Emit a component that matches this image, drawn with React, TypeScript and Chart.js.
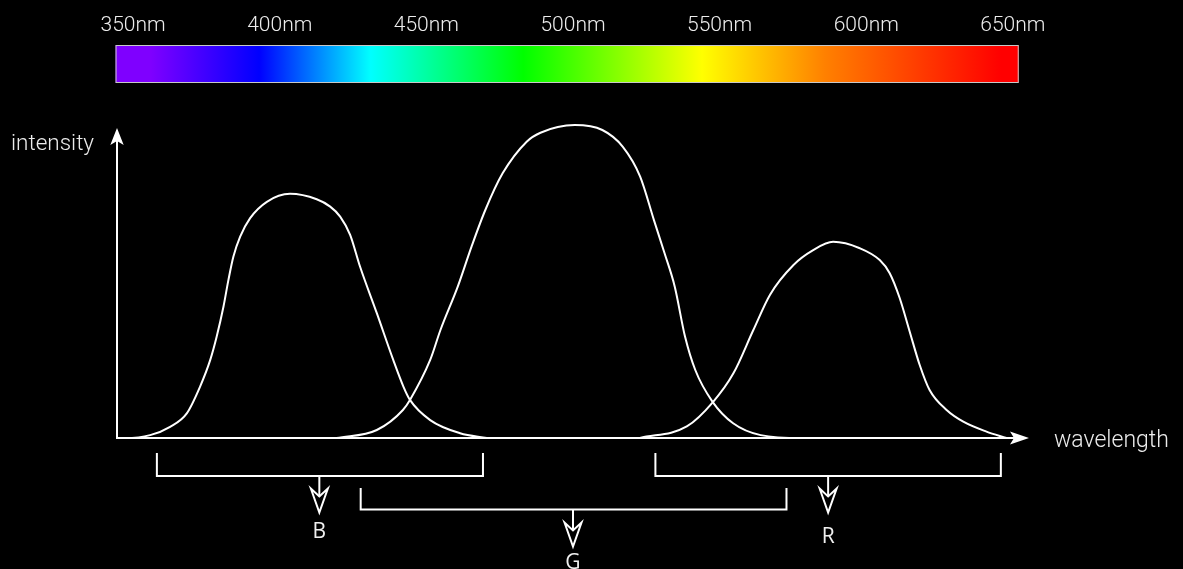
import React, { useEffect, useRef } from "react";
import { Chart, registerables } from "chart.js";

Chart.register(...registerables);

// ---- data ----
const wavelengthTicks = [350, 400, 450, 500, 550, 600, 650];

const blueWavelength = [345.6, 347.3, 355.8, 362.6, 368.3, 372.8, 376.3, 378.5, 380.8, 382.5, 384.2, 386.5, 389.9, 395.6, 403.5, 412.6, 417.2, 420.6, 424.0, 427.4, 433.1, 438.7, 442.2, 444.4, 451.3, 461.5, 470.6];
const blueIntensity = [0, 0, 0.9, 3.5, 7.7, 16, 24.4, 31.7, 41, 49.4, 56.7, 62.9, 68.7, 73.8, 76.3, 74.6, 72.3, 69.2, 63.5, 53.5, 39, 24.4, 16, 11.9, 5.6, 1.5, 0];

const greenWavelength = [419.4, 433.1, 442.0, 444.4, 451.3, 454.8, 460.7, 465.4, 470.1, 476.0, 484.2, 488.9, 500.6, 510.0, 517.0, 522.9, 527.6, 531.2, 534.7, 538.2, 541.7, 547.6, 554.6, 564.0, 578.1, 593.4];
const greenIntensity = [0, 2.5, 8.75, 11.9, 24.4, 33.75, 47.3, 59.8, 71.25, 82.7, 92.6, 95.4, 97.8, 96.25, 91.0, 81.7, 68.1, 57.8, 47.3, 31.7, 21.25, 11.3, 4.6, 0.9, 0, 0];

const redWavelength = [522.8, 538.8, 547.8, 554.7, 561.5, 567.2, 575.1, 581.9, 588.7, 597.8, 604.6, 608.0, 611.4, 614.8, 618.2, 621.6, 627.4, 633.1, 641.0, 647.8];
const redIntensity = [0, 3.6, 11.3, 20.2, 33.75, 44.8, 54.0, 58.7, 61.3, 59.3, 55.6, 51.5, 43.75, 33.3, 22.9, 15.0, 8.75, 5.1, 2.0, 0];

const spectrumWavelengths = [344, 356, 393, 431, 483, 544, 586, 646, 652];
const spectrumColors = ["#7f00ff", "#7f00ff", "#0000ff", "#00ffff", "#00ff00", "#ffff00", "#ff8000", "#ff0000", "#ff0000"];

const bracketLabels = ["B", "G", "R"];
const bracketStart = [358.1, 427.6, 528.1];
const bracketEnd = [469.3, 572.8, 645.9];
const bracketArrowAt = [413.5, 500, 587];

const axisMinWavelength = 344.5;
const axisMaxWavelength = 655.5;

function toPoints(xs: number[], ys: number[]) {
  return xs.map((x, i) => ({ x, y: ys[i] }));
}

// vertical layout of each bracket (px): top, bottom, arrow tip, label centre
const bracketRows = [
  { top: 453, bottom: 476, tip: 512.5, label: 532 },
  { top: 488, bottom: 509.5, tip: 546.5, label: 563 },
  { top: 453, bottom: 476, tip: 512.5, label: 537 },
];

const overlayPlugin = {
  id: "overlay",
  beforeDatasetsDraw(chart: any) {
    const { ctx, chartArea } = chart;
    ctx.save();
    ctx.strokeStyle = "#ffffff";
    ctx.fillStyle = "#ffffff";
    ctx.lineWidth = 2;
    // y axis
    const ax = chartArea.left;
    const ay = chartArea.bottom;
    ctx.beginPath();
    ctx.moveTo(ax, ay + 1);
    ctx.lineTo(ax, 138);
    ctx.stroke();
    ctx.beginPath();
    ctx.moveTo(ax, 128);
    ctx.lineTo(ax - 6.7, 145);
    ctx.lineTo(ax, 141);
    ctx.lineTo(ax + 6.7, 145);
    ctx.closePath();
    ctx.fill();
    // x axis
    const tipX = chartArea.right;
    ctx.beginPath();
    ctx.moveTo(ax - 1, ay);
    ctx.lineTo(tipX - 10, ay);
    ctx.stroke();
    ctx.beginPath();
    ctx.moveTo(tipX, ay);
    ctx.lineTo(tipX - 19, ay - 6.5);
    ctx.lineTo(tipX - 15, ay);
    ctx.lineTo(tipX - 19, ay + 6.5);
    ctx.closePath();
    ctx.fill();
    ctx.restore();
  },
  afterDraw(chart: any) {
    const { ctx } = chart;
    const xs = chart.scales.x;
    ctx.save();
    // spectrum bar
    const x0 = xs.getPixelForValue(spectrumWavelengths[0]);
    const x1 = xs.getPixelForValue(spectrumWavelengths[spectrumWavelengths.length - 1]);
    const grad = ctx.createLinearGradient(x0, 0, x1, 0);
    const wMin = spectrumWavelengths[0];
    const wMax = spectrumWavelengths[spectrumWavelengths.length - 1];
    spectrumWavelengths.forEach((w, i) => {
      grad.addColorStop((w - wMin) / (wMax - wMin), spectrumColors[i]);
    });
    ctx.fillStyle = grad;
    ctx.fillRect(x0, 45, x1 - x0, 38);
    ctx.strokeStyle = "#c8c8c8";
    ctx.lineWidth = 1;
    ctx.strokeRect(x0 + 0.5, 45.5, x1 - x0 - 1, 37);

    // tick labels
    ctx.fillStyle = "#ececec";
    ctx.font = "300 21px Roboto, 'Open Sans', sans-serif";
    ctx.textAlign = "center";
    ctx.textBaseline = "middle";
    wavelengthTicks.forEach((w) => {
      ctx.fillText(w + "nm", xs.getPixelForValue(w), 25.5);
    });

    // axis titles
    ctx.font = "300 22.5px Roboto, 'Open Sans', sans-serif";
    ctx.textAlign = "left";
    ctx.fillText("intensity", 11, 144);
    ctx.font = "300 23px Roboto, 'Open Sans', sans-serif";
    ctx.fillText("wavelength", 1054, 441);

    // brackets
    ctx.strokeStyle = "#ffffff";
    ctx.lineWidth = 2;
    bracketLabels.forEach((lab, i) => {
      const row = bracketRows[i];
      const a = xs.getPixelForValue(bracketStart[i]);
      const b = xs.getPixelForValue(bracketEnd[i]);
      const m = xs.getPixelForValue(bracketArrowAt[i]);
      ctx.beginPath();
      ctx.moveTo(a, row.top);
      ctx.lineTo(a, row.bottom);
      ctx.lineTo(b, row.bottom);
      ctx.lineTo(b, row.top);
      ctx.stroke();
      // stem
      const headTop = row.tip - 24;
      ctx.beginPath();
      ctx.moveTo(m, row.bottom);
      ctx.lineTo(m, row.tip - 16);
      ctx.stroke();
      // hollow arrowhead
      ctx.beginPath();
      ctx.moveTo(m - 8.5, headTop);
      ctx.lineTo(m, row.tip);
      ctx.lineTo(m + 8.5, headTop);
      ctx.lineTo(m, headTop + 8);
      ctx.closePath();
      ctx.stroke();
      // label
      ctx.fillStyle = "#f0f0f0";
      ctx.font = "21px 'Open Sans', 'Noto Sans', sans-serif";
      ctx.textAlign = "center";
      ctx.textBaseline = "middle";
      ctx.fillText(lab, m, row.label);
    });
    ctx.restore();
  },
};

export default function App() {
  const canvasRef = useRef<HTMLCanvasElement | null>(null);

  useEffect(() => {
    document.body.style.margin = "0";
    document.body.style.background = "#000";
    const canvas = canvasRef.current;
    if (!canvas) return;
    const lineStyle = {
      borderColor: "#ffffff",
      borderWidth: 2,
      pointRadius: 0,
      fill: false,
      cubicInterpolationMode: "monotone" as const,
      clip: false as any,
    };
    const chart = new Chart(canvas, {
      type: "line",
      data: {
        datasets: [
          { label: "B", data: toPoints(blueWavelength, blueIntensity), ...lineStyle },
          { label: "G", data: toPoints(greenWavelength, greenIntensity), ...lineStyle },
          { label: "R", data: toPoints(redWavelength, redIntensity), ...lineStyle },
        ],
      },
      options: {
        animation: false,
        responsive: false,
        events: [],
        layout: { padding: { left: 117, right: 154, top: 118, bottom: 131 } },
        scales: {
          x: { type: "linear", min: axisMinWavelength, max: axisMaxWavelength, display: false },
          y: { type: "linear", min: 0, max: 100, display: false },
        },
        plugins: { legend: { display: false }, tooltip: { enabled: false } },
      },
      plugins: [overlayPlugin],
    });
    return () => chart.destroy();
  }, []);

  return (
    <div style={{ position: "fixed", left: 0, top: 0, width: 1183, height: 569, background: "#000" }}>
      <canvas ref={canvasRef} width={1183} height={569} style={{ width: 1183, height: 569, display: "block" }} />
    </div>
  );
}
